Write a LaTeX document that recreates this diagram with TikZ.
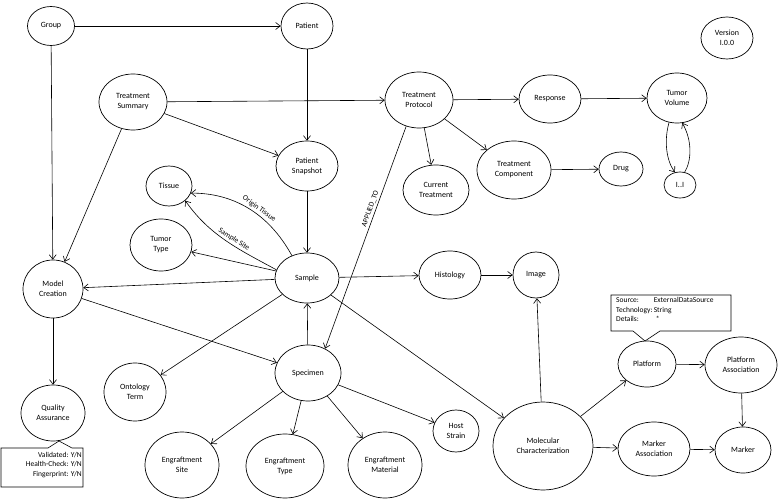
\documentclass[tikz,border=0pt]{standalone}
\usepackage{fontspec}
\setmainfont{Carlito}
\usetikzlibrary{shapes.geometric,arrows.meta}
\tikzset{
  ent/.style={draw, ellipse, line width=0.7pt, inner sep=0pt, align=center,
    font=\fontsize{8}{10}\selectfont},
  conn/.style={line width=0.6pt, -{Straight Barb[length=4.5pt,width=7pt]}},
  lbl/.style={font=\fontsize{7.5}{9}\selectfont, inner sep=2pt},
  callout/.style={draw, line width=0.6pt, fill=white},
}
\newcommand{\ent}[6]{\node[ent, minimum width=#4pt, minimum height=#5pt] (#1) at (#2,#3) {#6};}
\begin{document}
\begin{tikzpicture}[x=1pt,y=-1pt]
\useasboundingbox (0,0) rectangle (780,500);
% nodes
\ent{group}{51}{26}{47}{39}{Group}
\ent{patient}{307}{26}{52}{46}{Patient}
\ent{tsum}{133}{102}{68}{56}{Treatment\\Summary}
\ent{psnap}{307}{166}{62}{50}{Patient\\Snapshot}
\ent{tissue}{169}{186}{46}{40}{Tissue}
\ent{ttype}{161}{245}{62}{52}{Tumor\\Type}
\ent{model}{53}{289}{60}{58}{Model\\Creation}
\ent{sample}{307}{278}{64}{50}{Sample}
\ent{qa}{53}{413}{64}{56}{Quality\\Assurance}
\ent{onto}{135}{392}{62}{58}{Ontology\\Term}
\ent{spec}{308}{373}{66}{56}{Specimen}
\ent{esite}{182}{465}{74}{66}{Engraftment\\Site}
\ent{etype}{285}{466}{78}{64}{Engraftment\\Type}
\ent{emat}{385}{465}{74}{66}{Engraftment\\Material}
\ent{host}{456}{431}{46}{42}{Host\\Strain}
\ent{mc}{543}{446}{100}{88}{Molecular\\Characterization}
\ent{hist}{450}{275}{62}{48}{Histology}
\ent{img}{536}{275}{46}{46}{Image}
\ent{plat}{647}{364}{58}{46}{Platform}
\ent{pa}{741}{365}{72}{56}{Platform\\Association}
\ent{ma}{654}{449}{72}{54}{Marker\\Association}
\ent{marker}{743}{450}{56}{46}{Marker}
\ent{tp}{419}{100}{68}{56}{Treatment\\Protocol}
\ent{resp}{550}{99}{62}{48}{Response}
\ent{tv}{677}{98}{60}{50}{Tumor\\Volume}
\ent{ct}{436}{190}{66}{50}{Current\\Treatment}
\ent{tc}{514}{170}{74}{58}{Treatment\\Component}
\ent{drug}{621}{169}{44}{34}{Drug}
\ent{card}{680}{185}{32}{26}{I..I}
\ent{version}{727}{38}{52}{42}{Version\\I.0.0}
% callouts
\coordinate (qaapex) at (59,441);
\draw[callout] (1,448) -- (48,448) -- (qaapex) -- (72,448) -- (83,448) -- (83,487) -- (1,487) -- cycle;
\node[font=\fontsize{7.5}{9.5}\selectfont, align=right, anchor=north east, inner sep=0pt] (qatext) at (82,452)
  {Validated: Y/N\\Health-Check: Y/N\\Fingerprint: Y/N};
\coordinate (platapex) at (645,341);
\draw[callout] (611,295) -- (731,295) -- (731,331) -- (660,331) -- (platapex) -- (633,331) -- (611,331) -- cycle;
\node[font=\fontsize{7.5}{9.5}\selectfont, anchor=north west, inner sep=0pt] (plattext) at (616,296)
  {\begin{tabular}{@{}l@{\,}l@{}}Source: & ExternalDataSource\\ Technology: & String\\ Details: & \hspace{2pt}*\end{tabular}};
% connectors
\draw[conn] (group) -- (patient);
\draw[conn] (group) -- (model);
\draw[conn] (patient) -- (psnap);
\draw[conn] (tsum) -- (tp);
\draw[conn] (tsum) -- (psnap);
\draw[conn] (tsum) -- (model);
\draw[conn] (psnap) -- (sample);
\draw[conn] (sample.124) .. controls (268,212) and (232,193) .. (tissue.-18)
  node[lbl, pos=0.42, sloped, above] {Origin Tissue};
\draw[conn] (sample.165) .. controls (240,250) and (210,236) .. (tissue.-42)
  node[lbl, pos=0.45, sloped, above] {Sample Site};
\draw[conn] (sample) -- (ttype);
\draw[conn] (sample) -- (model);
\draw[conn] (sample) -- (hist);
\draw[conn] (sample) -- (onto);
\draw[conn] (sample) -- (mc);
\draw[conn] (spec) -- (sample);
\draw[conn] (tp.-116) -- (spec.55) node[lbl, pos=0.38, sloped, above] {APPLIED\_TO};
\draw[conn] (tp) -- (resp);
\draw[conn] (tp) -- (ct);
\draw[conn] (tp) -- (tc);
\draw[conn] (resp) -- (tv);
\draw[conn] (tc) -- (drug);
\draw[conn] (tv.-108) .. controls (664,140) and (666,160) .. (card.112);
\draw[conn] (card.70) .. controls (692,160) and (692,140) .. (tv.-78);
\draw[conn] (model) -- (spec);
\draw[conn] (model) -- (qa);
\draw[conn] (spec) -- (esite);
\draw[conn] (spec) -- (etype);
\draw[conn] (spec) -- (emat);
\draw[conn] (spec) -- (host);
\draw[conn] (hist) -- (img);
\draw[conn] (mc) -- (img);
\draw[conn] (mc) -- (plat);
\draw[conn] (mc) -- (ma);
\draw[conn] (plat) -- (pa);
\draw[conn] (pa) -- (marker);
\draw[conn] (ma) -- (marker);
\end{tikzpicture}
\end{document}
